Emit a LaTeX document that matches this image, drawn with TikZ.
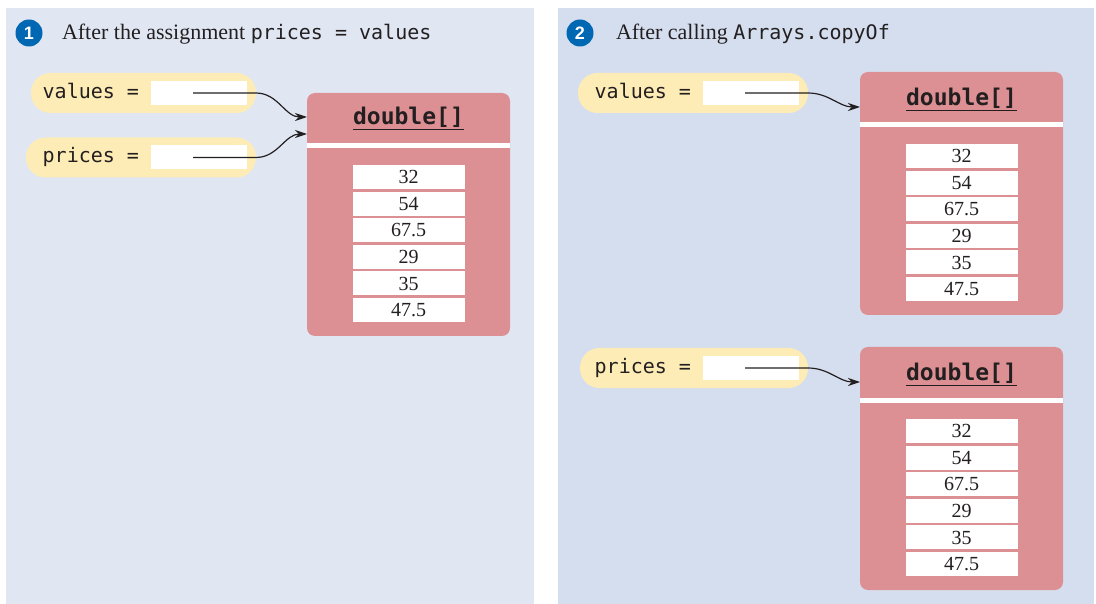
\documentclass[tikz,border=0pt]{standalone}
\usepackage{fontspec}
\setmainfont{Liberation Serif}
\setsansfont{Liberation Sans}
\setmonofont{DejaVu Sans Mono}
\usetikzlibrary{positioning,arrows.meta}

\definecolor{paneone}{RGB}{224,231,243}
\definecolor{panetwo}{RGB}{213,222,239}
\definecolor{pillyellow}{RGB}{253,236,181}
\definecolor{arrayred}{RGB}{221,144,148}
\definecolor{badgeblue}{RGB}{0,104,178}
\definecolor{ink}{RGB}{35,31,32}

\begin{document}
\begin{tikzpicture}[
x=1pt,y=-1pt,
>={Stealth[length=12pt,width=8pt]},
every node/.style={inner sep=0pt,outer sep=0pt},
badge/.style={circle,fill=badgeblue,minimum size=27pt,text=white,
  font=\sffamily\bfseries\fontsize{18}{18}\selectfont},
title/.style={anchor=base west,text=ink,font=\fontsize{22}{26}\selectfont},
pill/.style={fill=pillyellow,rounded corners=19.5pt,minimum height=40pt},
refbox/.style={fill=white,minimum width=96pt,minimum height=24pt},
varname/.style={text=ink,font=\ttfamily\fontsize{20}{24}\selectfont,
  text height=15pt,text depth=4pt},
arraybox/.style={fill=arrayred,rounded corners=8pt,minimum width=203pt,
  minimum height=243pt,anchor=north west},
head/.style={anchor=base,text=ink,font=\ttfamily\bfseries\fontsize{23}{26}\selectfont},
sep/.style={white,line width=5pt},
cell/.style={fill=white,minimum width=112pt,minimum height=24pt,
  text height=13.5pt,text depth=0pt,text=ink,font=\fontsize{20}{24}\selectfont},
link/.style={->,draw=ink,line width=1.2pt}
]

\fill[white] (0,0) rectangle (1096,604);
\useasboundingbox (0,0) rectangle (1096,604);

% panels
\fill[paneone] (6,8) rectangle (534,604);
\fill[panetwo] (558,8) rectangle (1094,604);

% step 1
\node[badge] (b1) at (29,33) {1};
\node[title] (t1) at (62,40) {After the assignment {\ttfamily\fontsize{20}{26}\selectfont prices = values}};

\node[pill,minimum width=225pt] (pv1) at (143.5,93) {};
\node[refbox,left=9pt of pv1.east] (rv1) {};
\node[varname,left=12pt of rv1] (nv1) {values =};

\node[pill,minimum width=230pt] (pp1) at (141,157.5) {};
\node[refbox,left=9pt of pp1.east] (rp1) {};
\node[varname,left=12pt of rp1] (np1) {prices =};

\node[arraybox] (arr1) at (307,93) {};
\node[head] (h1) at ([yshift=-32pt]arr1.north) {\underline{double[]}};
\draw[sep] ([yshift=-53pt]arr1.north west) -- ([yshift=-53pt]arr1.north east);
\foreach \v [count=\i] in {32,54,67.5,29,35,47.5}
  \node[cell] (a\i) at ([yshift={-84pt-(\i-1)*26.6pt}]arr1.north) {\v};

\coordinate (sv1) at ([xshift=-6pt]rv1.center);
\coordinate (sp1) at ([xshift=-6pt]rp1.center);
\coordinate (ev1) at ([yshift=-24pt]arr1.north west);
\coordinate (ep1) at ([yshift=-41pt]arr1.north west);
\draw[link] (sv1) -- (pv1.east |- sv1) to[out=0,in=180] (ev1);
\draw[link] (sp1) -- (pp1.east |- sp1) to[out=0,in=180] (ep1);

% step 2
\node[badge] (b2) at (580,33) {2};
\node[title] (t2) at (616,40) {After calling {\ttfamily\fontsize{20}{26}\selectfont Arrays.copyOf}};

\node[pill,minimum width=230pt] (pv2) at (693,93) {};
\node[refbox,left=9pt of pv2.east] (rv2) {};
\node[varname,left=12pt of rv2] (nv2) {values =};

\node[pill,minimum width=228pt] (pp2) at (694,368) {};
\node[refbox,left=9pt of pp2.east] (rp2) {};
\node[varname,left=12pt of rp2] (np2) {prices =};

\node[arraybox] (arr2) at (860,72) {};
\node[head] (h2) at ([yshift=-34pt]arr2.north) {\underline{double[]}};
\draw[sep] ([yshift=-53pt]arr2.north west) -- ([yshift=-53pt]arr2.north east);
\foreach \v [count=\i] in {32,54,67.5,29,35,47.5}
  \node[cell] (b\i) at ([yshift={-84pt-(\i-1)*26.6pt}]arr2.north) {\v};

\node[arraybox] (arr3) at (860,347) {};
\node[head] (h3) at ([yshift=-34pt]arr3.north) {\underline{double[]}};
\draw[sep] ([yshift=-53pt]arr3.north west) -- ([yshift=-53pt]arr3.north east);
\foreach \v [count=\i] in {32,54,67.5,29,35,47.5}
  \node[cell] (c\i) at ([yshift={-84pt-(\i-1)*26.6pt}]arr3.north) {\v};

\coordinate (sv2) at ([xshift=-6pt]rv2.center);
\coordinate (sp2) at ([xshift=-6pt]rp2.center);
\coordinate (ev2) at ([yshift=-35pt]arr2.north west);
\coordinate (ep2) at ([yshift=-35pt]arr3.north west);
\draw[link] (sv2) -- (pv2.east |- sv2) to[out=0,in=180] (ev2);
\draw[link] (sp2) -- (pp2.east |- sp2) to[out=0,in=180] (ep2);

\end{tikzpicture}
\end{document}
